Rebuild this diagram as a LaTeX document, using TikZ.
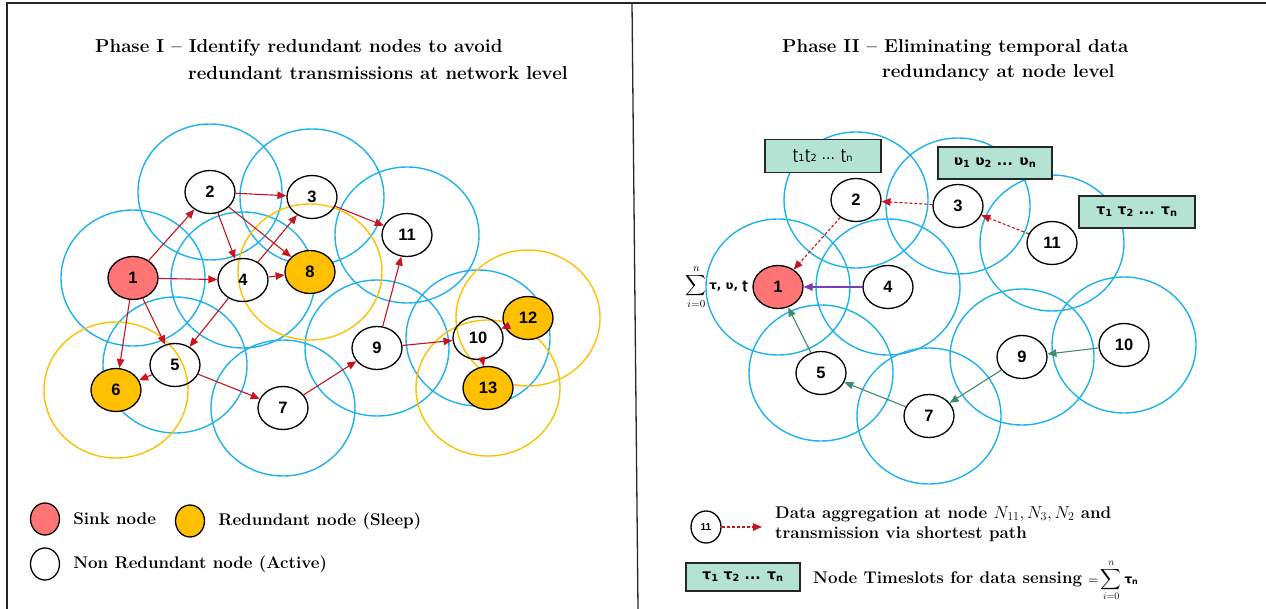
\documentclass[tikz,border=0pt]{standalone}
\usepackage{exscale}
\usepackage{fontspec}
\newfontfamily\nodefont{Liberation Sans}
\newfontfamily\symfont{DejaVu Sans}
\usetikzlibrary{arrows.meta, positioning, shapes.geometric, backgrounds}
\definecolor{sinkred}{RGB}{255,117,117}
\definecolor{sleepgold}{RGB}{255,192,0}
\definecolor{rangeblue}{RGB}{30,178,236}
\definecolor{linkred}{RGB}{200,20,30}
\definecolor{linkgreen}{RGB}{64,140,110}
\definecolor{linkpurple}{RGB}{120,60,180}
\definecolor{slotmint}{RGB}{180,227,212}
\definecolor{framegray}{RGB}{40,40,40}

\begin{document}
\begin{tikzpicture}[x=1pt, y=-1pt,
  sensor/.style={ellipse, draw=black, line width=1.3pt, minimum width=50pt,
    minimum height=43pt, inner sep=0pt, font=\nodefont\bfseries\fontsize{16.5}{16.5}\selectfont},
  sink/.style={sensor, fill=sinkred},
  sleeper/.style={sensor, fill=sleepgold},
  keynode/.style={ellipse, draw=black, line width=1.3pt, minimum width=29pt,
    minimum height=32pt, inner sep=0pt},
  bluerange/.style={draw=rangeblue, line width=1.4pt},
  goldrange/.style={draw=sleepgold, line width=1.4pt},
  link/.style={-{Triangle[length=9pt,width=7.5pt]}, line width=1.1pt},
  redlink/.style={link, draw=linkred},
  dashlink/.style={redlink, dash pattern=on 3pt off 2pt},
  greenlink/.style={link, draw=linkgreen},
  purplelink/.style={link, draw=linkpurple},
  slotbox/.style={rectangle, draw=black!85, line width=1.4pt, fill=slotmint,
    minimum width=116pt, minimum height=33pt, inner sep=2pt,
    font=\symfont\bfseries\fontsize{14}{14}\selectfont},
  heading/.style={font=\bfseries\fontsize{18.7}{22}\selectfont, inner sep=0pt, anchor=west},
  keytext/.style={font=\bfseries\fontsize{16.9}{20}\selectfont, inner sep=0pt, anchor=west}
]
\useasboundingbox (0,0) rectangle (1266,609);
\draw[framegray, line width=1.3pt] (7,609) -- (7,3) -- (1266,3);
\draw[framegray, line width=1.3pt] (632,3) -- (638,609);

% Phase I
\node[heading] (title1a) at (95,48) {Phase I – Identify redundant nodes to avoid};
\node[heading] (title1b) at (188,73) {redundant transmissions at network level};
\foreach \n/\x/\y/\kind in {1/133/278/sink, 2/210/192/sensor, 3/312/197/sensor,
  4/243/280/sensor, 5/175/365/sensor, 6/116/390/sleeper, 7/283/408/sensor,
  8/310/272/sleeper, 9/377/348/sensor, 10/478/338/sensor, 11/407/235/sensor,
  12/528/318/sleeper, 13/488/388/sleeper}
  \node[\kind] (l\n) at (\x,\y) {\n};
\foreach \a/\b in {1/2, 1/4, 1/5, 1/6, 2/3, 2/4, 2/8, 4/3, 4/8, 4/5, 3/11,
  5/6, 5/7, 7/9, 9/11, 9/10, 12/10, 10/13}
  \draw[redlink] (l\a) -- (l\b);

\node[keynode, fill=sinkred] (keysink) at (45,519) {};
\node[keytext, right=13pt of keysink] (keysinktxt) {Sink node};
\node[keynode, fill=sleepgold] (keysleep) at (190,521) {};
\node[keytext, right=13pt of keysleep] (keysleeptxt) {Redundant node (Sleep)};
\node[keynode] (keyactive) at (45,564) {};
\node[keytext, right=13pt of keyactive] (keyactivetxt) {Non Redundant node (Active)};

% Phase II
\node[heading] (title2a) at (782,48) {Phase II – Eliminating temporal data};
\node[heading] (title2b) at (882,73) {redundancy at node level};
\foreach \n/\x/\y/\kind in {1/778/287/sink, 2/856/200/sensor, 3/958/206/sensor,
  4/888/287/sensor, 5/821/373/sensor, 7/929/416/sensor, 9/1022/357/sensor,
  10/1124/345/sensor, 11/1052/243/sensor}
  \node[\kind] (r\n) at (\x,\y) {\n};
\node[slotbox, font=\symfont\fontsize{14}{14}\selectfont] (slot2) at (823,156)
  {ʈ\textsubscript{1}ʈ\textsubscript{2} ... ʈ\textsubscript{n}};
\node[slotbox, minimum width=114pt, minimum height=32pt] (slot3) at (995,163)
  {ʋ\textsubscript{1} ʋ\textsubscript{2} ... ʋ\textsubscript{n}};
\node[slotbox, minimum height=32pt] (slot11) at (1137,212)
  {τ\textsubscript{1} τ\textsubscript{2} ... τ\textsubscript{n}};
\node[anchor=east, inner sep=1pt] (sumlbl) at ([xshift=-3pt]r1.west)
  {\fontsize{15}{15}\selectfont$\displaystyle\sum_{i=0}^{n}$\,{\symfont\bfseries\fontsize{12}{12}\selectfont τ, ʋ, ʈ}};
\draw[dashlink] (r3) -- (r2);
\draw[dashlink] (r11) -- (r3);
\draw[dashlink] (r2) -- (r1);
\draw[purplelink] (r4) -- (r1);
\foreach \a/\b in {5/1, 7/5, 9/7, 10/9}
  \draw[greenlink] (r\a) -- (r\b);

\node[sensor, minimum width=30pt, minimum height=32pt,
  font=\nodefont\bfseries\fontsize{10}{10}\selectfont] (key11) at (706,527) {11};
\coordinate (keyarrowend) at (762,527);
\draw[dashlink] (key11) -- (keyarrowend);
\node[keytext, align=left] (keyaggtxt) at (775,524)
  {Data aggregation at node $N_{11}, N_3, N_2$ and\\transmission via shortest path};
\node[slotbox, minimum width=114pt, minimum height=28pt] (keyslot) at (743,577)
  {τ\textsubscript{1} τ\textsubscript{2} ... τ\textsubscript{n}};
\node[keytext, anchor=base west] (keyslottxt) at (813,583)
  {Node Timeslots for data sensing {\fontsize{11}{11}\selectfont=}\,{\fontsize{14}{14}\selectfont$\displaystyle\sum_{i=0}^{n}$}\,{\symfont\fontsize{12}{12}\selectfont τ\textsubscript{n}}};

\begin{scope}[on background layer]
  \foreach \n in {1, 2, 3, 4, 5, 7, 9, 10, 11}
    \draw[bluerange] (l\n.center) ellipse [x radius=72pt, y radius=68pt];
  \foreach \n in {6, 8, 12, 13}
    \draw[goldrange] (l\n.center) ellipse [x radius=72pt, y radius=68pt];
  \foreach \n in {1, 2, 3, 4, 5, 7, 9, 10, 11}
    \draw[bluerange] (r\n.center) ellipse [x radius=72pt, y radius=68pt];
\end{scope}
\end{tikzpicture}
\end{document}
